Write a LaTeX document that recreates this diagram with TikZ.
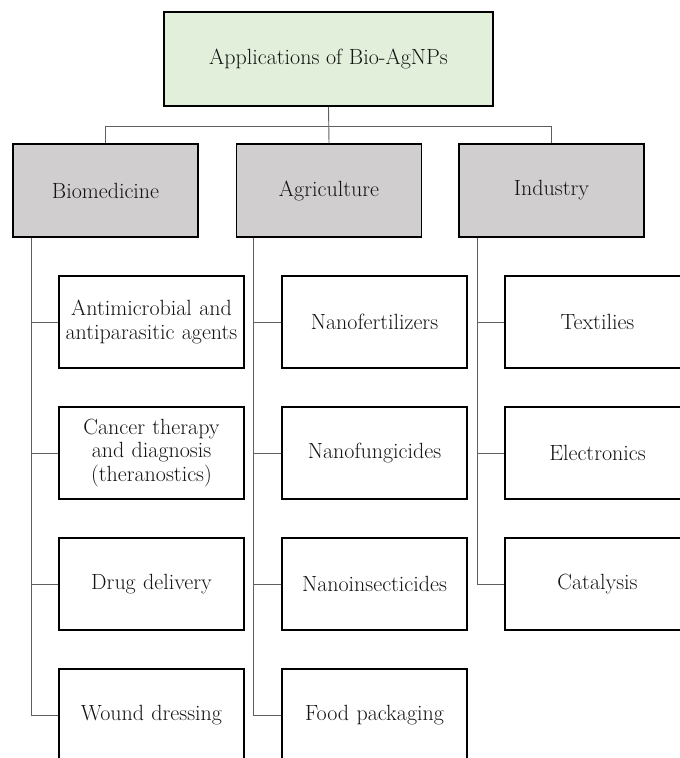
\documentclass[tikz,border=0pt]{standalone}
\usepackage{fontspec}
\usetikzlibrary{calc}
\definecolor{topfill}{RGB}{226,239,218}
\definecolor{catfill}{RGB}{208,206,206}
\definecolor{linegray}{RGB}{95,95,95}
\definecolor{txt}{RGB}{20,20,20}
\begin{document}
\begin{tikzpicture}[x=1pt,y=-1pt,
  box/.style={draw=black,line width=1.5pt,minimum width=185pt,minimum height=92pt,
    inner sep=2pt,align=center,text=txt,font=\fontsize{22}{23.5}\selectfont},
  topbox/.style={box,fill=topfill,minimum width=329pt,minimum height=94pt},
  catbox/.style={box,fill=catfill,minimum height=93pt},
  leafbox/.style={box,fill=white,text width=181pt},
  conn/.style={draw=linegray,line width=0.9pt}]
\useasboundingbox (0,0) rectangle (680,758);
\clip (0,0) rectangle (680,758);
\fill[white] (0,0) rectangle (680,758);
% nodes
\node[topbox] (top) at (328.5,59) {Applications of Bio-AgNPs};
\node[catbox] (bio) at (105.5,190.5) {Biomedicine};
\node[catbox] (agr) at (329,190.5) {Agriculture};
\node[catbox] (ind) at (551.5,190.5) {Industry};
\node[leafbox] (b1) at (151.5,322) {Antimicrobial and\\antiparasitic agents};
\node[leafbox] (b2) at (151.5,453) {Cancer therapy\\and diagnosis\\(theranostics)};
\node[leafbox] (b3) at (151.5,584) {Drug delivery};
\node[leafbox] (b4) at (151.5,715) {Wound dressing};
\node[leafbox] (a1) at (374.5,322) {Nanofertilizers};
\node[leafbox] (a2) at (374.5,453) {Nanofungicides};
\node[leafbox] (a3) at (374.5,584) {Nanoinsecticides};
\node[leafbox] (a4) at (374.5,715) {Food packaging};
\node[leafbox] (i1) at (597.5,322) {Textilies};
\node[leafbox] (i2) at (597.5,453) {Electronics};
\node[leafbox] (i3) at (597.5,584) {Catalysis};
% connectors
\coordinate (bus) at (0,126);
\draw[conn] (top.south) -- (agr.north);
\draw[conn] (bio.north) -- (bio.north |- bus) -- (ind.north |- bus) -- (ind.north);
\coordinate (bioT) at ($(bio.south west)+(19,0)$);
\coordinate (agrT) at ($(agr.south west)+(18,0)$);
\coordinate (indT) at ($(ind.south west)+(19,0)$);
\draw[conn] (bioT) |- (b4.west);
\draw[conn] (bioT |- b1.west) -- (b1.west);
\draw[conn] (bioT |- b2.west) -- (b2.west);
\draw[conn] (bioT |- b3.west) -- (b3.west);
\draw[conn] (agrT) |- (a4.west);
\draw[conn] (agrT |- a1.west) -- (a1.west);
\draw[conn] (agrT |- a2.west) -- (a2.west);
\draw[conn] (agrT |- a3.west) -- (a3.west);
\draw[conn] (indT) |- (i3.west);
\draw[conn] (indT |- i1.west) -- (i1.west);
\draw[conn] (indT |- i2.west) -- (i2.west);
\end{tikzpicture}
\end{document}
